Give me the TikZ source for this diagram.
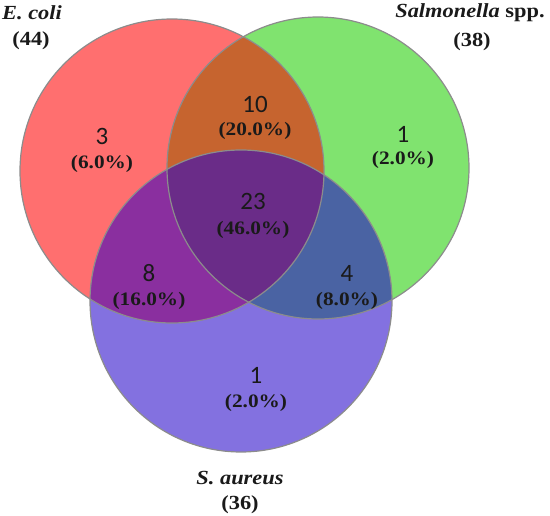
\documentclass[tikz,border=0pt]{standalone}
\usepackage{fontspec}
\setmainfont{Liberation Serif}[FakeStretch=1.12]
\newfontfamily\numfont{Carlito}
\definecolor{cRed}{HTML}{FF6F6F}
\definecolor{cGreen}{HTML}{80E36F}
\definecolor{cBlue}{HTML}{8371E0}
\definecolor{cRG}{HTML}{C6642F}
\definecolor{cRB}{HTML}{8A2F9F}
\definecolor{cGB}{HTML}{4A63A3}
\definecolor{cRGB}{HTML}{6A2C88}
\definecolor{cEdge}{HTML}{8C8C8C}
\definecolor{cText}{HTML}{1A1A1A}
\begin{document}
\begin{tikzpicture}[x=1pt,y=-1pt,
  edge/.style={draw=cEdge, line width=1.2pt},
  cnt/.style={font=\numfont\fontsize{25}{25}\selectfont, text=cText, inner sep=0pt, anchor=center},
  pct/.style={font=\bfseries\fontsize{19}{19}\selectfont, text=cText, inner sep=0pt, anchor=center},
  setlab/.style={font=\bfseries\fontsize{20}{20}\selectfont, text=cText, inner sep=0pt, anchor=center}]
\useasboundingbox (0,0) rectangle (550,516);
\coordinate (R) at (172,171);
\coordinate (G) at (318,168);
\coordinate (B) at (241,301);
\def\rR{152}\def\rG{151}\def\rB{151}
% base fills
\fill[cRed] (R) circle (\rR);
\fill[cGreen] (G) circle (\rG);
\fill[cBlue] (B) circle (\rB);
% pairwise overlaps
\begin{scope}
  \clip (R) circle (\rR);
  \fill[cRG] (G) circle (\rG);
  \fill[cRB] (B) circle (\rB);
\end{scope}
\begin{scope}
  \clip (G) circle (\rG);
  \fill[cGB] (B) circle (\rB);
\end{scope}
\begin{scope}
  \clip (R) circle (\rR);
  \clip (G) circle (\rG);
  \fill[cRGB] (B) circle (\rB);
\end{scope}
% outlines
\draw[edge] (R) circle (\rR);
\draw[edge] (G) circle (\rG);
\draw[edge] (B) circle (\rB);
% set labels
\node[setlab] (lE) at (32,13) {\itshape E. coli};
\node[setlab] (lEn) at (31,41) {(44)};
\node[setlab] (lS) at (470,13) {\textit{Salmonella} spp.};
\node[setlab] (lSn) at (472,42) {(38)};
\node[setlab] (lA) at (240,478) {\itshape S. aureus};
\node[setlab] (lAn) at (240,505) {(36)};
% counts
\node[cnt] (n1) at (102,136) {3};
\node[pct] (p1) at (102,164) {(6.0\%)};
\node[cnt] (n2) at (255,104) {10};
\node[pct] (p2) at (255,131) {(20.0\%)};
\node[cnt] (n3) at (403,134) {1};
\node[pct] (p3) at (403,160) {(2.0\%)};
\node[cnt] (n4) at (253,201) {23};
\node[pct] (p4) at (253,230) {(46.0\%)};
\node[cnt] (n5) at (149,273) {8};
\node[pct] (p5) at (149,301) {(16.0\%)};
\node[cnt] (n6) at (347,273) {4};
\node[pct] (p6) at (347,301) {(8.0\%)};
\node[cnt] (n7) at (256,375) {1};
\node[pct] (p7) at (256,403) {(2.0\%)};
\end{tikzpicture}
\end{document}
